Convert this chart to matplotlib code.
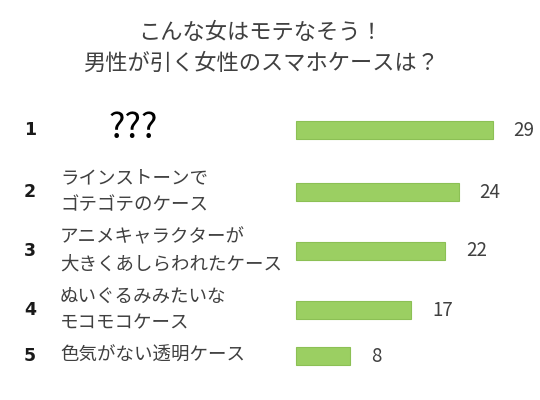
import matplotlib
matplotlib.use("Agg")
import matplotlib.pyplot as plt
import matplotlib.transforms as mtransforms

plt.rcParams['font.family'] = ['Noto Sans CJK JP', 'DejaVu Sans']

title = "こんな女はモテなそう！\n男性が引く女性のスマホケースは？"
ranks = ["1", "2", "3", "4", "5"]
categories = [
    "???",
    "ラインストーンで\nゴテゴテのケース",
    "アニメキャラクターが\n大きくあしらわれたケース",
    "ぬいぐるみみたいな\nモコモコケース",
    "色気がない透明ケース",
]
values = [29, 24, 22, 17, 8]

# layout (pixel rows of the bars)
row_y = [130, 192, 251, 310, 356]

W, H, DPI = 540, 400, 100
fig = plt.figure(figsize=(W / DPI, H / DPI), dpi=DPI)
ax = fig.add_axes([0, 0, 1, 1])
px_per_unit = 6.78
x0 = 296
ax.set_xlim(-x0 / px_per_unit, (W - x0) / px_per_unit)
ax.set_ylim(H, 0)
ax.axis('off')

ax.barh(row_y, values, height=18, color='#9BCF62', edgecolor='#8CC055', linewidth=0.8)

for y, v in zip(row_y, values):
    ax.annotate(str(v), xy=(v, y), xytext=(15, 0), textcoords='offset points',
                ha='left', va='center', fontsize=13.5, color='#404040')

tr = mtransforms.blended_transform_factory(fig.transFigure, ax.transData)
for y, r, c in zip(row_y, ranks, categories):
    ax.text(30 / W, y, r, transform=tr, ha='center', va='center',
            fontsize=12.5, fontweight='bold', color='#1a1a1a', family=['DejaVu Sans'])
    if c == "???":
        ax.text(133 / W, y - 1, c, transform=tr, ha='center', va='center',
                fontsize=25, color='#000000')
    else:
        ax.text(60 / W, y, c, transform=tr, ha='left', va='center',
                fontsize=13.3, color='#404040', linespacing=1.62)

fig.text(261 / W, 1 - 48 / H, title, ha='center', va='center', fontsize=16,
         color='#404040', linespacing=1.45)

fig.savefig('out.png', dpi=DPI)
